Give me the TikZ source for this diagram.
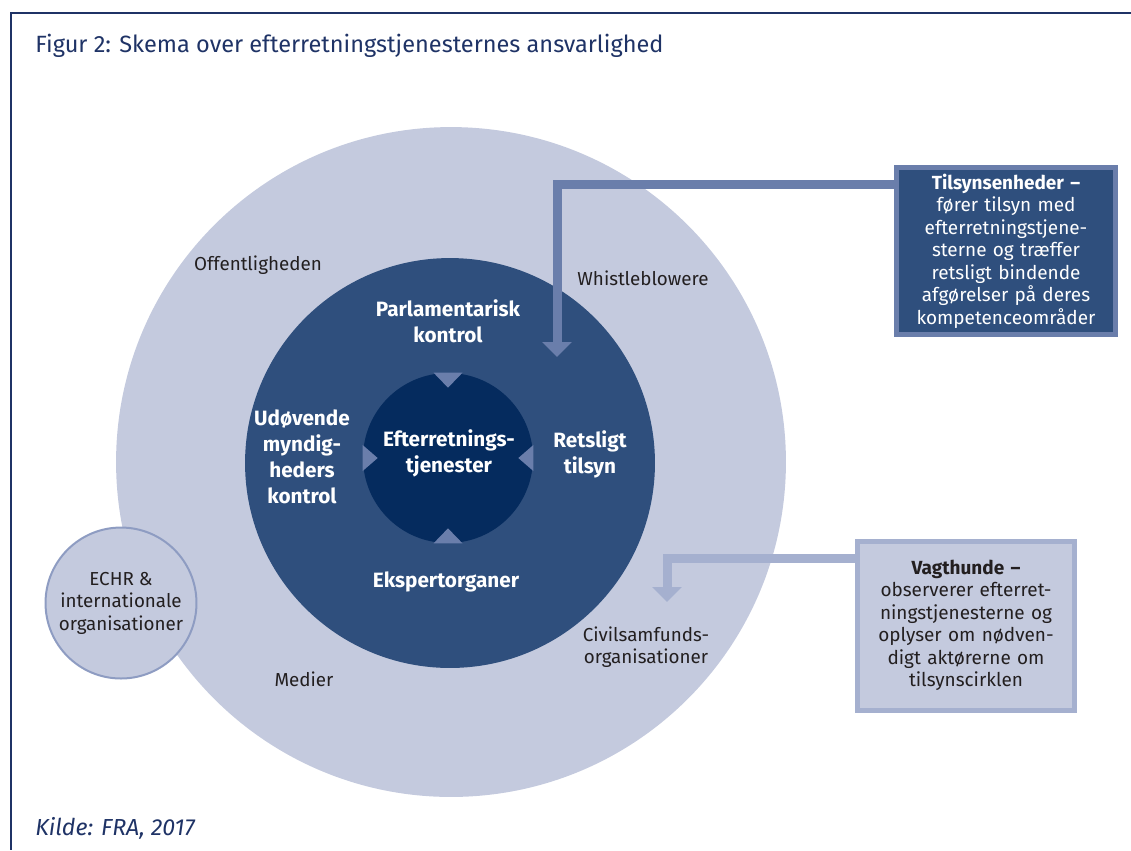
\documentclass[tikz,border=0pt]{standalone}
\usepackage{fontspec}
\setmainfont{Fira Sans}
\usetikzlibrary{arrows.meta}
\definecolor{outerc}{HTML}{C4CADE}
\definecolor{midc}{HTML}{2F4F7D}
\definecolor{innerc}{HTML}{052B5E}
\definecolor{tric}{HTML}{6A7EAB}
\definecolor{navy}{HTML}{1F3366}
\definecolor{lightbord}{HTML}{A5B0CF}
\definecolor{echrbord}{HTML}{8E9CC2}
\definecolor{txt}{HTML}{231F20}
\tikzset{
  lbl/.style={text=txt, font=\fontsize{10.7}{12.8}\selectfont, align=center, inner sep=0pt},
  blbl/.style={text=white, font=\bfseries\fontsize{11.8}{14.8}\selectfont, align=center, inner sep=0pt},
  tri/.style={fill=tric, draw=none},
  conn/.style={line width=0.18cm, -{Triangle[width=0.58cm,length=0.3cm]}},
}
\begin{document}
\begin{tikzpicture}[x=0.02cm,y=-0.02cm]
\useasboundingbox (0,0) rectangle (1131,850);
% frame
\draw[navy, line width=0.04cm] (1131,13) -- (11,13) -- (11,850);
% title and source
\node[anchor=west, text=navy, font=\fontsize{13.4}{15}\selectfont, inner sep=0pt] (title) at (35,46) {Figur 2: Skema over efterretningstjenesternes ansvarlighed};
\node[anchor=west, text=navy, font=\itshape\fontsize{13.2}{15}\selectfont, inner sep=0pt] (kilde) at (35,828) {Kilde: FRA, 2017};
% circles
\node[circle, fill=outerc, minimum size=13.4cm, inner sep=0pt] (outer) at (451,462) {};
\node[circle, fill=midc, minimum size=8.2cm, inner sep=0pt] (mid) at (450,463) {};
\node[circle, fill=innerc, minimum size=3.4cm, inner sep=0pt] (inner) at (448,458) {};
\node[circle, fill=outerc, draw=echrbord, line width=0.04cm, minimum size=3.02cm, inner sep=0pt] (echr) at (121,603) {};
% triangles on inner circle
\fill[tri] (inner.north) ++(-14.5,0) -- ++(29,0) -- ++(-14.5,15) -- cycle;
\fill[tri] (inner.south) ++(-14.5,0) -- ++(29,0) -- ++(-14.5,-15) -- cycle;
\fill[tri] (inner.west) ++(0,-13) -- ++(0,26) -- ++(15,-13) -- cycle;
\fill[tri] (inner.east) ++(0,-13) -- ++(0,26) -- ++(-15,-13) -- cycle;
% labels
\node[lbl] (offentlig) at (258,265) {Offentligheden};
\node[lbl] (whistle) at (643,278) {Whistleblowere};
\node[lbl] (civil) at (646,647) {Civilsamfunds-\\organisationer};
\node[lbl] (medier) at (304,679) {Medier};
\node[lbl] (echrtxt) at (echr) {ECHR \&\\internationale\\organisationer};
\node[blbl] (parl) at (448,321) {Parlamentarisk\\kontrol};
\node[blbl] (udov) at (302,457) {Udøvende\\myndig-\\heders\\kontrol};
\node[blbl] (efter) at (449,453) {Efterretnings-\\tjenester};
\node[blbl] (rets) at (590,454) {Retsligt\\tilsyn};
\node[blbl] (ekspert) at (446,582) {Ekspertorganer};
% boxes
\node[draw=tric, fill=midc, line width=0.1cm, minimum width=4.4cm, minimum height=3.36cm,
      text width=4.1cm, align=center, text=white, font=\fontsize{10.8}{12.8}\selectfont] (tbox) at (1006,251)
  {\textbf{Tilsynsenheder –}\\fører tilsyn med\\efterretningstjene-\\sterne og træffer\\retsligt bindende\\afgørelser på deres\\kompetenceområder};
\node[draw=lightbord, fill=outerc, line width=0.1cm, minimum width=4.36cm, minimum height=3.38cm,
      text width=4.1cm, align=center, text=txt, font=\fontsize{10.8}{12.8}\selectfont] (vbox) at (966,625.5)
  {\textbf{Vagthunde –}\\observerer efterret-\\ningstjenesterne og\\oplyser om nødven-\\digt aktørerne om\\tilsynscirklen};
% connectors
\coordinate (tend) at (557,357);
\coordinate (vend) at (667,602);
\draw[conn, tric] ([yshift=-0.4cm]tbox.north west) -| (tend);
\draw[conn, lightbord] ([yshift=-0.4cm]vbox.north west) -| (vend);
\end{tikzpicture}
\end{document}
